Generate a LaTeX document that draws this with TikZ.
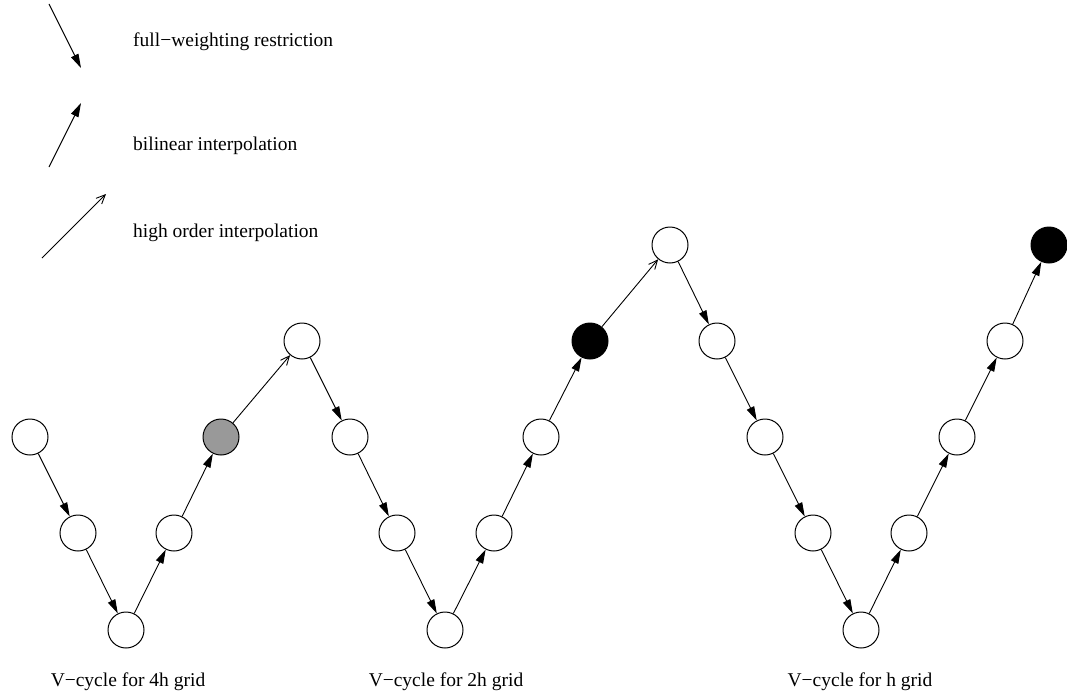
\documentclass[tikz,border=0pt]{standalone}
\usepackage{fontspec}
\setmainfont{Liberation Serif}
\usetikzlibrary{arrows.meta}
\begin{document}
\begin{tikzpicture}[x=1pt,y=-1pt,
  gridpt/.style={circle,draw,line width=1pt,minimum size=36pt,inner sep=0pt},
  restr/.style={line width=0.9pt,-{Triangle[length=14pt,width=8pt]}},
  bilin/.style={restr},
  highord/.style={line width=0.9pt,-{Straight Barb[length=9pt,width=8pt]}},
  lbl/.style={font=\fontsize{19.5}{23}\selectfont,inner sep=0pt,anchor=base}
]
\useasboundingbox (0,0) rectangle (1067,693);

% legend
\coordinate (r0) at (49,4);   \coordinate (r1) at (81,68);
\coordinate (b0) at (49,167); \coordinate (b1) at (81,103);
\coordinate (h0) at (42,258); \coordinate (h1) at (106,194);
\draw[restr] (r0) -- (r1);
\draw[bilin] (b0) -- (b1);
\draw[highord] (h0) -- (h1);
\node[lbl,anchor=base west] (tr) at (133,46) {full−weighting restriction};
\node[lbl,anchor=base west] (tb) at (133,150) {bilinear interpolation};
\node[lbl,anchor=base west] (th) at (133,237) {high order interpolation};

% V-cycle on the 4h grid
\node[gridpt] (a1) at (30,437) {};
\node[gridpt] (a2) at (78,533) {};
\node[gridpt] (a3) at (126,630) {};
\node[gridpt] (a4) at (174,533) {};
\node[gridpt,fill=black!40] (a5) at (221,437) {};
\node[gridpt] (a6) at (302,341) {};
% V-cycle on the 2h grid
\node[gridpt] (b1) at (350,437) {};
\node[gridpt] (b2) at (397,533) {};
\node[gridpt] (b3) at (445,630) {};
\node[gridpt] (b4) at (494,533) {};
\node[gridpt] (b5) at (541,437) {};
\node[gridpt,fill=black] (b6) at (590,341) {};
\node[gridpt] (b7) at (670,245) {};
% V-cycle on the h grid
\node[gridpt] (c1) at (717,341) {};
\node[gridpt] (c2) at (765,437) {};
\node[gridpt] (c3) at (813,533) {};
\node[gridpt] (c4) at (861,630) {};
\node[gridpt] (c5) at (909,533) {};
\node[gridpt] (c6) at (957,437) {};
\node[gridpt] (c7) at (1005,341) {};
\node[gridpt,fill=black] (c8) at (1049,245) {};

\draw[restr] (a1) -- (a2);
\draw[restr] (a2) -- (a3);
\draw[bilin] (a3) -- (a4);
\draw[bilin] (a4) -- (a5);
\draw[highord] (a5) -- (a6);
\draw[restr] (a6) -- (b1);
\draw[restr] (b1) -- (b2);
\draw[restr] (b2) -- (b3);
\draw[bilin] (b3) -- (b4);
\draw[bilin] (b4) -- (b5);
\draw[bilin] (b5) -- (b6);
\draw[highord] (b6) -- (b7);
\draw[restr] (b7) -- (c1);
\draw[restr] (c1) -- (c2);
\draw[restr] (c2) -- (c3);
\draw[restr] (c3) -- (c4);
\draw[bilin] (c4) -- (c5);
\draw[bilin] (c5) -- (c6);
\draw[bilin] (c6) -- (c7);
\draw[bilin] (c7) -- (c8);

\node[lbl] (l4) at (128,686) {V−cycle for 4h grid};
\node[lbl] (l2) at (446,686) {V−cycle for 2h grid};
\node[lbl] (l1) at (860,686) {V−cycle for h grid};
\end{tikzpicture}
\end{document}
